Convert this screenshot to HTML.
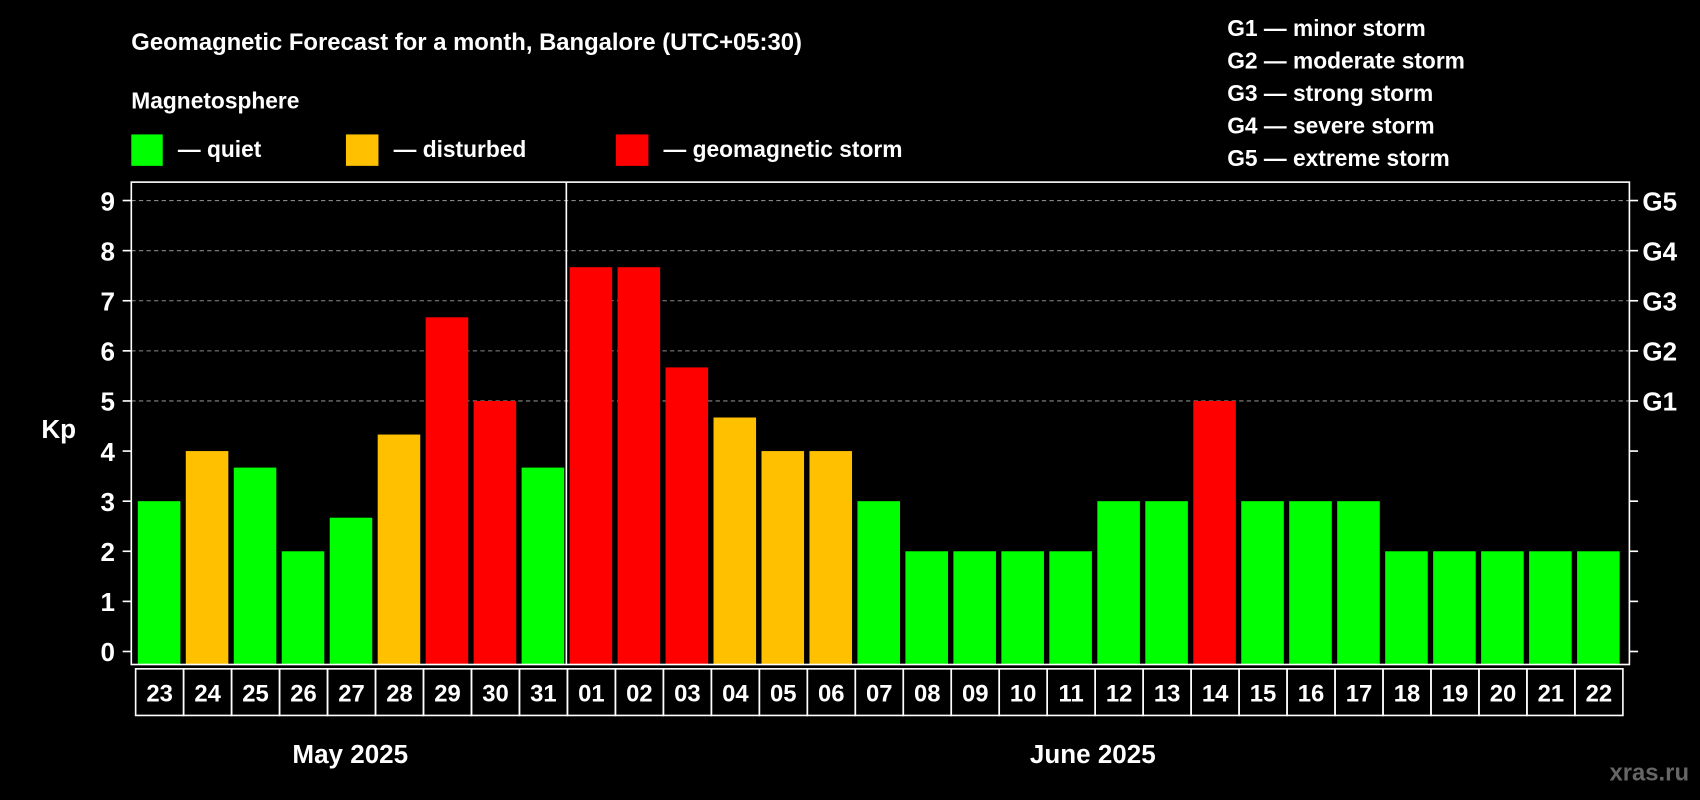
<!DOCTYPE html>
<html><head><meta charset="utf-8"><style>
html,body{margin:0;padding:0;background:#000;}
svg{display:block;font-family:"Liberation Sans",Arial,sans-serif;font-weight:bold;}
</style></head><body>
<svg id="chart" width="1700" height="800" viewBox="0 0 1568 738" xmlns="http://www.w3.org/2000/svg">
<rect width="1568" height="738" fill="#000"/>
<text x="121" y="46" fill="#fff" font-size="22">Geomagnetic Forecast for a month, Bangalore (UTC+05:30)</text>
<text x="121" y="100" fill="#fff" font-size="21">Magnetosphere</text>
<g><rect x="121" y="124" width="29" height="29" fill="#00ff00"/><text x="164" y="145" fill="#fff" font-size="21">— quiet</text></g>
<g><rect x="319" y="124" width="30" height="29" fill="#ffc000"/><text x="363" y="145" fill="#fff" font-size="21">— disturbed</text></g>
<g><rect x="568" y="124" width="30" height="29" fill="#ff0000"/><text x="612" y="145" fill="#fff" font-size="21">— geomagnetic storm</text></g>
<g fill="#fff" font-size="21">
<text x="1132" y="33">G1 — minor storm</text>
<text x="1132" y="63">G2 — moderate storm</text>
<text x="1132" y="93">G3 — strong storm</text>
<text x="1132" y="123">G4 — severe storm</text>
<text x="1132" y="153">G5 — extreme storm</text>
</g>
<text x="38" y="404" fill="#fff" font-size="24">Kp</text>
<g id="plot"></g>
<text x="323" y="704" fill="#fff" font-size="24" text-anchor="middle">May 2025</text>
<text x="1008" y="704" fill="#fff" font-size="24" text-anchor="middle">June 2025</text>
<text x="1558" y="720" fill="#666" font-size="22" text-anchor="end">xras.ru</text>
</svg>
<script>
const days = ["23","24","25","26","27","28","29","30","31","01","02","03","04","05","06","07","08","09","10","11","12","13","14","15","16","17","18","19","20","21","22"];
const kpValues = [3,4,3.67,2,2.67,4.33,6.67,5,3.67,7.67,7.67,5.67,4.67,4,4,3,2,2,2,2,3,3,5,3,3,3,2,2,2,2,2];
const yTicks = [0,1,2,3,4,5,6,7,8,9];
const gLabels = ["G1","G2","G3","G4","G5"];
const gLevels = [5,6,7,8,9];
const monthSplitIndex = 9;

const NS = "http://www.w3.org/2000/svg";
const plot = document.getElementById("plot");
const fL = 121, fR = 1503, fT = 168, fB = 613;
const x0 = 125, pitch = (1497 - 125) / days.length;
function yScale(v){ return 601 - v * (601 - 185) / 9; }
function xScale(i){ return x0 + i * pitch; }
function mk(tag, attrs){ const e = document.createElementNS(NS, tag); for (const k in attrs) e.setAttribute(k, attrs[k]); plot.appendChild(e); return e; }
function color(v){ return v >= 5 ? "#ff0000" : (v >= 4 ? "#ffc000" : "#00ff00"); }

yTicks.forEach(t => {
  const y = yScale(t);
  if (t >= 5) {
    const g = mk("line", {x1: fL, x2: fR, y1: y, y2: y, stroke: "#888", "stroke-width": 1, "stroke-dasharray": "4,3"});
    
    
  }
  const tl = mk("line", {x1: fL - 8, x2: fL, y1: y, y2: y, stroke: "#fff", "stroke-width": 1.5});
  
  
  const tr = mk("line", {x1: fR, x2: fR + 8, y1: y, y2: y, stroke: "#fff", "stroke-width": 1.5});
  
  
  const lab = mk("text", {x: 106, y: y + 9, fill: "#fff", "font-size": 24, "text-anchor": "end"});
  lab.textContent = t;
  
  
});
gLevels.forEach((lv, i) => {
  const lab = mk("text", {x: 1515, y: yScale(lv) + 9, fill: "#fff", "font-size": 24});
  lab.textContent = gLabels[i];
  
  
});

kpValues.forEach((v, i) => {
  const x = xScale(i);
  const b = mk("rect", {x: x + 2, y: yScale(v), width: pitch - 5, height: fB - yScale(v), fill: color(v)});
  
  
  const box = mk("rect", {x: x, y: 617, width: pitch, height: 43, fill: "none", stroke: "#fff", "stroke-width": 1.5});
  
  
  const t = mk("text", {x: x + pitch / 2, y: 647, fill: "#fff", "font-size": 22, "text-anchor": "middle"});
  t.textContent = days[i];
  
  
});

const frame = mk("rect", {x: fL, y: fT, width: fR - fL, height: fB - fT, fill: "none", stroke: "#fff", "stroke-width": 1.5});


const dx = xScale(monthSplitIndex) - 1;
const div = mk("line", {x1: dx, x2: dx, y1: fT, y2: fB, stroke: "#fff", "stroke-width": 1.5});


</script>
</body></html>
